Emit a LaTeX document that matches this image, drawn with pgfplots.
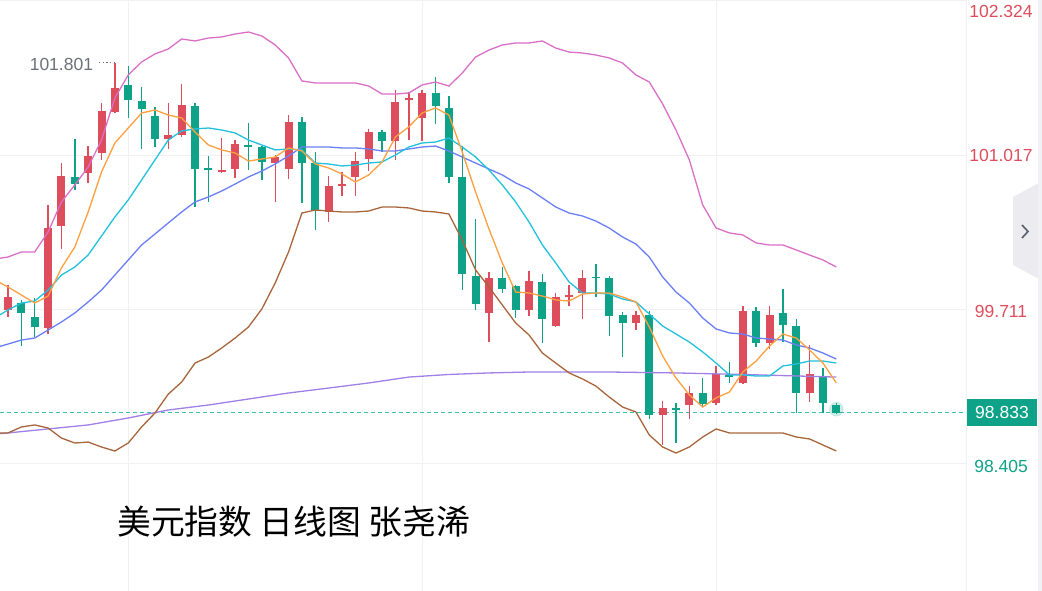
\documentclass[border=0pt]{standalone}
\usepackage{pgfplots}
\pgfplotsset{compat=1.18}
\usepackage{pgfplotstable}
\usepackage{fontspec}
\setmainfont{Liberation Sans}
\newfontfamily\cjk{Noto Sans CJK SC}
\definecolor{upc}{RGB}{222,77,92}
\definecolor{downc}{RGB}{14,163,136}
\definecolor{ma5}{RGB}{255,160,64}
\definecolor{ma10}{RGB}{34,192,220}
\definecolor{ma20}{RGB}{106,126,246}
\definecolor{malong}{RGB}{160,127,230}
\definecolor{bup}{RGB}{217,111,199}
\definecolor{bdn}{RGB}{168,101,58}
\definecolor{gridc}{RGB}{240,241,245}
\definecolor{lblgray}{RGB}{110,112,121}
\definecolor{tabc}{RGB}{235,235,240}
\definecolor{chev}{RGB}{90,95,107}
\definecolor{dashc}{RGB}{60,194,168}

\pgfplotstableread{
x top bot hi lo
0 99.813 99.703 99.915 99.643
3 100.398 99.550 100.593 99.499
4 100.839 100.415 100.949 100.220
6 101.009 100.865 101.093 100.780
7 101.390 101.034 101.458 100.975
8 101.585 101.382 101.801 101.373
12 101.187 101.153 101.458 101.068
13 101.441 101.187 101.619 101.170
16 100.890 100.873 101.161 100.865
17 101.110 100.898 101.144 100.822
20 101.000 100.949 101.017 100.619
21 101.297 100.898 101.356 100.814
24 100.754 100.534 100.839 100.449
25 100.771 100.754 100.873 100.669
26 100.966 100.831 101.043 100.669
27 101.212 100.983 101.238 100.881
29 101.466 101.136 101.568 100.975
30 101.500 101.484 101.551 101.144
31 101.543 101.331 101.568 101.136
36 99.974 99.677 100.025 99.431
39 99.949 99.703 100.033 99.652
41 99.813 99.567 99.847 99.559
42 99.830 99.813 99.915 99.737
43 99.974 99.847 100.042 99.626
47 99.660 99.593 99.694 99.533
49 98.872 98.812 98.931 98.558
51 98.999 98.897 99.058 98.778
53 99.160 98.914 99.228 98.897
55 99.694 99.084 99.737 99.075
57 99.660 99.423 99.737 99.372
60 99.160 98.999 99.406 98.923
}\uptab

\pgfplotstableread{
x top bot hi lo
1 99.762 99.677 99.788 99.397
2 99.643 99.559 99.805 99.474
5 100.831 100.771 101.153 100.720
9 101.611 101.483 101.772 101.331
10 101.475 101.407 101.594 101.068
11 101.348 101.153 101.424 101.085
14 101.433 100.898 101.458 100.576
15 100.907 100.890 101.009 100.619
18 101.102 101.085 101.289 100.890
19 101.085 100.958 101.093 100.805
22 101.297 100.949 101.339 100.610
23 100.949 100.542 101.043 100.381
28 101.212 101.136 101.229 101.043
32 101.543 101.433 101.679 101.280
33 101.416 100.831 101.517 100.780
34 100.831 100.008 101.093 99.872
35 99.991 99.754 100.474 99.703
37 99.974 99.881 100.067 99.847
38 99.906 99.703 99.915 99.635
40 99.940 99.626 100.008 99.423
44 99.983 99.971 100.093 99.813
45 99.974 99.652 99.991 99.482
46 99.660 99.593 99.686 99.304
48 99.660 98.812 99.694 98.778
50 98.872 98.855 98.914 98.575
52 98.999 98.906 99.126 98.880
54 99.152 99.135 99.262 99.084
56 99.694 99.423 99.728 99.389
58 99.677 99.576 99.881 99.431
59 99.567 98.999 99.627 98.829
61 99.143 98.914 99.211 98.829
62 98.897 98.833 98.914 98.821
}\dntab

\pgfplotstableread{
x m5 m10 m20 bu bd
-1 99.957 99.635 99.381 100.135 98.660
0 99.898 99.703 99.414 100.152 98.660
1 99.830 99.762 99.448 100.195 98.711
2 99.762 99.779 99.465 100.195 98.728
3 99.821 99.872 99.533 100.364 98.702
4 100.059 99.999 99.601 100.619 98.617
5 100.237 100.067 99.677 100.763 98.575
6 100.534 100.169 99.771 100.915 98.583
7 100.873 100.330 99.872 101.144 98.541
8 101.119 100.491 99.999 101.501 98.507
9 101.246 100.636 100.127 101.696 98.575
10 101.373 100.805 100.254 101.806 98.711
11 101.399 100.975 100.347 101.874 98.829
12 101.356 101.144 100.441 101.916 98.990
13 101.331 101.221 100.534 102.001 99.092
14 101.212 101.238 100.619 101.984 99.253
15 101.102 101.246 100.661 102.009 99.304
16 101.060 101.229 100.712 102.018 99.381
17 101.034 101.204 100.771 102.043 99.465
18 100.966 101.144 100.831 102.060 99.559
19 100.983 101.102 100.881 102.026 99.711
20 101.000 101.060 100.941 101.950 99.932
21 101.077 101.068 101.009 101.840 100.195
22 101.051 101.060 101.085 101.645 100.525
23 100.941 100.949 101.085 101.628 100.551
24 100.907 100.941 101.085 101.628 100.542
25 100.856 100.924 101.077 101.628 100.534
26 100.788 100.932 101.077 101.628 100.534
27 100.848 100.949 101.068 101.602 100.542
28 100.958 100.958 101.051 101.534 100.576
29 101.170 101.017 101.051 101.534 100.576
30 101.255 101.085 101.068 101.543 100.568
31 101.373 101.119 101.085 101.611 100.542
32 101.416 101.127 101.093 101.636 100.534
33 101.356 101.161 101.051 101.602 100.517
34 101.043 101.085 101.000 101.712 100.296
35 100.703 101.000 100.949 101.848 100.042
36 100.390 100.890 100.898 101.907 99.898
37 100.101 100.763 100.848 101.950 99.745
38 99.855 100.619 100.780 101.967 99.593
39 99.847 100.449 100.729 101.967 99.491
40 99.821 100.254 100.653 101.984 99.338
41 99.788 100.101 100.576 101.924 99.253
42 99.779 99.940 100.525 101.890 99.169
43 99.838 99.847 100.500 101.882 99.118
44 99.847 99.847 100.457 101.865 99.058
45 99.847 99.838 100.398 101.840 98.965
46 99.813 99.796 100.322 101.797 98.880
47 99.771 99.771 100.262 101.696 98.838
48 99.559 99.669 100.152 101.636 98.643
49 99.313 99.567 99.983 101.450 98.541
50 99.126 99.499 99.855 101.229 98.490
51 98.982 99.431 99.762 100.975 98.541
52 98.880 99.347 99.635 100.593 98.626
53 98.957 99.253 99.542 100.398 98.694
54 99.007 99.152 99.508 100.356 98.660
55 99.177 99.152 99.499 100.339 98.660
56 99.270 99.143 99.465 100.271 98.660
57 99.397 99.143 99.457 100.254 98.660
58 99.499 99.228 99.448 100.254 98.660
59 99.465 99.245 99.406 100.212 98.626
60 99.364 99.270 99.381 100.169 98.609
61 99.253 99.270 99.338 100.127 98.558
62 99.084 99.253 99.287 100.067 98.507
}\matab

\pgfplotstableread{
x v
-1 98.651
0 98.660
3 98.694
6 98.728
9 98.787
12 98.855
15 98.897
18 98.948
21 98.999
24 99.041
27 99.084
30 99.134
33 99.156
36 99.169
39 99.177
45 99.177
50 99.169
55 99.156
62 99.134
}\longtab

\newcommand{\lbl}{\fontsize{17.5}{20}\selectfont}

\begin{document}
\begin{tikzpicture}
\begin{axis}[
  width=966pt, height=591pt, scale only axis,
  xmin=-0.599, xmax=71.707, ymin=97.320, ymax=102.3315,
  axis line style={draw=none}, major tick length=0pt,
  xtick={9,31,53}, ytick={98.405,99.711,101.017,102.324},
  xticklabels={}, yticklabels={},
  grid=major, major grid style={draw=gridc, line width=0.9pt},
  clip mode=individual,
]
\draw[gridc, line width=1pt] (rel axis cs:1,0) -- (rel axis cs:1,1);
% current price line
\addplot[dashc, dashed, dash pattern=on 4pt off 3pt, line width=0.9pt] coordinates {(-0.6,98.833) (71.707,98.833)};
% wicks
\addplot[draw=none, mark=none, error bars/.cd, y dir=minus, y explicit, error mark=none,
  error bar style={draw=upc, line width=1.4pt}]
  table[x=x, y=hi, y error minus expr=\thisrow{hi}-\thisrow{lo}] {\uptab};
\addplot[draw=none, mark=none, error bars/.cd, y dir=minus, y explicit, error mark=none,
  error bar style={draw=downc, line width=1.4pt}]
  table[x=x, y=hi, y error minus expr=\thisrow{hi}-\thisrow{lo}] {\dntab};
% bodies
\addplot[draw=none, mark=none, error bars/.cd, y dir=minus, y explicit, error mark=none,
  error bar style={draw=upc, line width=8pt}]
  table[x=x, y=top, y error minus expr=\thisrow{top}-\thisrow{bot}] {\uptab};
\addplot[draw=none, mark=none, error bars/.cd, y dir=minus, y explicit, error mark=none,
  error bar style={draw=downc, line width=8pt}]
  table[x=x, y=top, y error minus expr=\thisrow{top}-\thisrow{bot}] {\dntab};
% glow on last candle
\addplot[only marks, mark=*, mark size=7pt, color=downc, opacity=0.2] coordinates {(62,98.862)};
% lines
\addplot[malong, line width=1.3pt] table[x=x, y=v] {\longtab};
\addplot[bdn, line width=1.3pt] table[x=x, y=bd] {\matab};
\addplot[bup, line width=1.3pt] table[x=x, y=bu] {\matab};
\addplot[ma20, line width=1.3pt] table[x=x, y=m20] {\matab};
\addplot[ma10, line width=1.3pt] table[x=x, y=m10] {\matab};
\addplot[ma5, line width=1.3pt] table[x=x, y=m5] {\matab};
% high marker
\node[anchor=east, text=lblgray, font=\lbl, inner sep=0pt] at (axis cs:6.38,101.782) {101.801};
\draw[lblgray, line width=1.2pt, dash pattern=on 1.2pt off 2.6pt] (axis cs:6.8,101.801) -- (axis cs:8.1,101.801);
% right labels
\node[text=upc, font=\lbl, inner sep=0pt] at (axis cs:74.33,102.230) {102.324};
\node[text=upc, font=\lbl, inner sep=0pt] at (axis cs:74.33,101.009) {101.017};
\node[text=upc, font=\lbl, inner sep=0pt] at (axis cs:74.33,99.686) {99.711};
\node[text=downc, font=\lbl, inner sep=0pt] at (axis cs:74.33,98.380) {98.405};
\node[fill=downc, text=white, font=\lbl, inner sep=0pt, minimum width=70pt, minimum height=27pt] at (axis cs:74.40,98.833) {98.833};
% title
\node[anchor=west, inner sep=0pt, font={\cjk\fontsize{33.8}{40}\selectfont}] at (axis cs:8.16,97.905) {美元指数 日线图 张尧浠};
\end{axis}
\pgfresetboundingbox
\path[use as bounding box] (0,0) rectangle (1042pt,591pt);
\fill[tabc] (1013pt,394pt) -- (1037pt,407pt) -- (1042pt,407pt) -- (1042pt,313pt) -- (1037pt,313pt) -- (1013pt,326pt) -- cycle;
\draw[chev, line width=1.6pt] (1022pt,366pt) -- (1028pt,359.5pt) -- (1022pt,353pt);
\fill[gridc] (1038pt,0pt) rectangle (1042pt,591pt);
\end{tikzpicture}
\end{document}
